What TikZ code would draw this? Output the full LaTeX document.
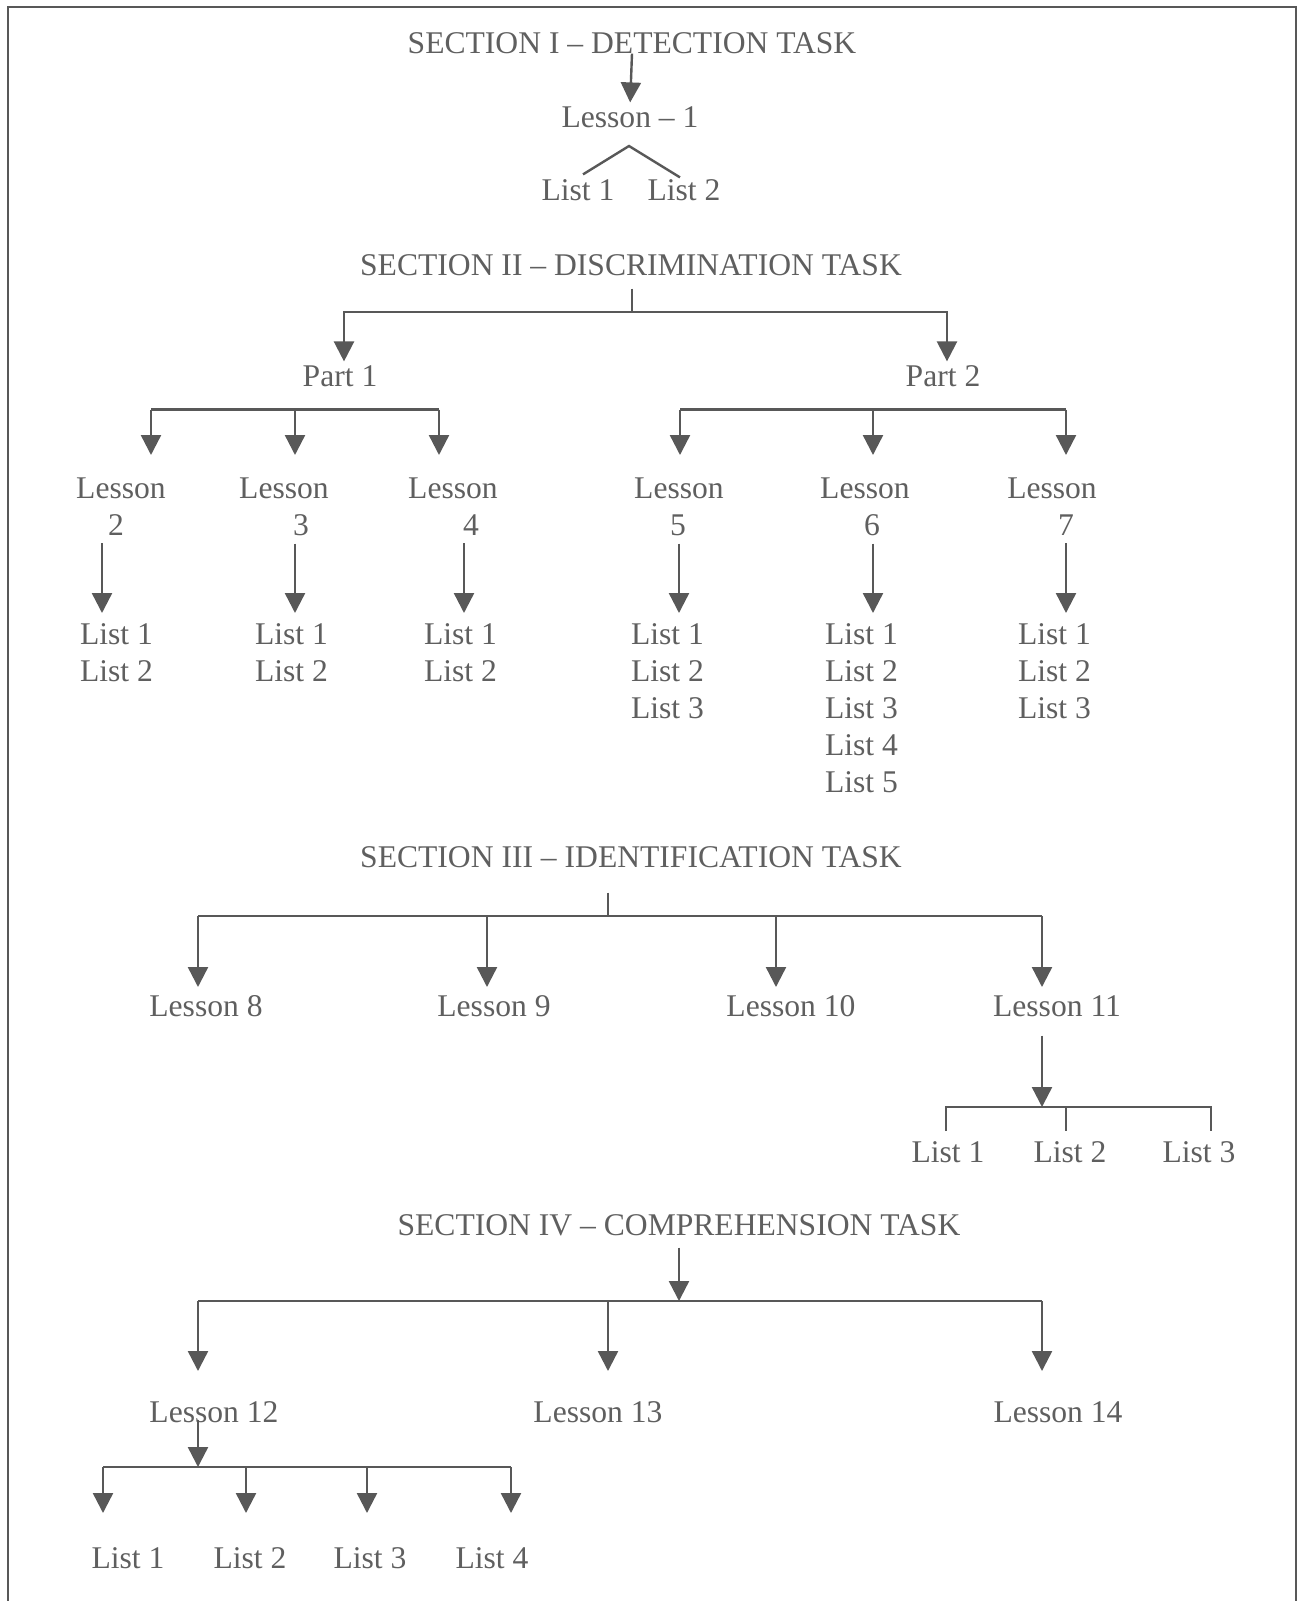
\documentclass[tikz,border=0pt]{standalone}
\usepackage{fontspec}
\setmainfont{Liberation Serif}
\usepackage{tikz}
\usetikzlibrary{arrows.meta,calc}
\definecolor{inkgray}{RGB}{88,88,88}
\definecolor{txtgray}{RGB}{95,95,95}
\tikzset{
  txt/.style={inner sep=0pt, outer sep=0pt, text=txtgray,
    font=\fontsize{15.8}{18.5}\selectfont},
  link/.style={draw=inkgray, line width=1.2pt},
  arr/.style={link, -{Triangle[length=10pt,width=10pt]}},
}
\begin{document}
\begin{tikzpicture}[y=0.5pt, x=0.5pt, yscale=-1]
\useasboundingbox (0,0) rectangle (1299,1601);
\path[draw=inkgray, line width=1pt] (8,1601) -- (8,7) -- (1296,7) -- (1296,1601);

% section I
\path (632,43) node[txt] (sec1) {SECTION I – DETECTION TASK};
\path (630,117) node[txt] (les1) {Lesson – 1};
\path (578,190) node[txt] (lst1a) {List 1};
\path (684,190) node[txt] (lst1b) {List 2};
\draw[arr, shorten >=2pt] (sec1.south) -- (les1.north);
\coordinate (cap1) at (629,146);
\draw[link] ($(lst1a.north)+(5,-5)$) -- (cap1) -- ($(lst1b.north)+(-4,-2)$);

% section II
\path (631,265) node[txt] (sec2) {SECTION II – DISCRIMINATION TASK};
\path (340,376) node[txt] (part1) {Part 1};
\path (943,376) node[txt] (part2) {Part 2};
\coordinate (j2) at (632,312);
\draw[link] ($(j2 |- sec2.south)+(0,13)$) -- (j2);
\draw[arr, shorten >=2pt] (j2) -| ($(part1.north)+(4,0)$);
\draw[arr, shorten >=2pt] (j2) -| ($(part2.north)+(4,0)$);

\foreach \n/\x in {2/151,3/295,4/439,5/680,6/873,7/1066}
  \coordinate (tip\n) at (\x,455);
\coordinate (bus21) at (151,409.5);
\coordinate (bus22) at (680,409.5);
\draw[link] (bus21) -- (tip4 |- bus21);
\draw[link] (bus22) -- (tip7 |- bus22);
\foreach \n in {2,3,4}
  \draw[arr] (tip\n |- bus21) -- (tip\n);
\foreach \n in {5,6,7}
  \draw[arr] (tip\n |- bus22) -- (tip\n);

\foreach \n/\xa/\xb in {2/121/116,3/284/301,4/453/471,5/679/678,6/865/872,7/1052/1066} {
  \path (\xa,488) node[txt] (les\n) {Lesson};
  \path (\xb,525) node[txt] (num\n) {\n};
}
\foreach \n/\x in {2/102,3/295,4/464,5/679,6/873,7/1066} {
  \coordinate (dn\n) at (\x,613);
  \draw[arr, shorten <=4pt] (dn\n |- num\n.south) -- (dn\n);
}

\path (80,624) node[txt, anchor=north west, align=left] (lst2) {List 1\\List 2};
\path (255,624) node[txt, anchor=north west, align=left] (lst3) {List 1\\List 2};
\path (424,624) node[txt, anchor=north west, align=left] (lst4) {List 1\\List 2};
\path (631,624) node[txt, anchor=north west, align=left] (lst5) {List 1\\List 2\\List 3};
\path (825,624) node[txt, anchor=north west, align=left] (lst6) {List 1\\List 2\\List 3\\List 4\\List 5};
\path (1018,624) node[txt, anchor=north west, align=left] (lst7) {List 1\\List 2\\List 3};

% section III
\path (631,857) node[txt] (sec3) {SECTION III – IDENTIFICATION TASK};
\coordinate (j3) at (608,916);
\draw[link] ($(j3 |- sec3.south)+(0,25)$) -- (j3);
\foreach \n/\x in {8/198,9/487,10/776,11/1042}
  \coordinate (tip\n) at (\x,987);
\coordinate (bus3) at (198,916);
\draw[link] (bus3) -- (tip11 |- bus3);
\foreach \n in {8,9,10,11}
  \draw[arr] (tip\n |- bus3) -- (tip\n);
\path (206,1006) node[txt] (les8) {Lesson 8};
\path (494,1006) node[txt] (les9) {Lesson 9};
\path (791,1006) node[txt] (les10) {Lesson 10};
\path (1057,1006) node[txt] (les11) {Lesson 11};

\coordinate (j11) at (1042,1107);
\draw[arr] ($(j11 |- les11.south)+(0,19)$) -- (j11);
\coordinate (k1) at (946,1131);
\coordinate (k2) at (1066,1131);
\coordinate (k3) at (1211,1131);
\draw[link] (k1) |- (k3 |- j11) -- (k3);
\draw[link] (k2 |- j11) -- (k2);
\path (948,1152) node[txt] (lst11a) {List 1};
\path (1070,1152) node[txt] (lst11b) {List 2};
\path (1199,1152) node[txt] (lst11c) {List 3};

% section IV
\path (679,1225) node[txt] (sec4) {SECTION IV – COMPREHENSION TASK};
\coordinate (j4) at (679,1301);
\draw[arr] ($(sec4.south)+(0,12)$) -- (j4);
\foreach \n/\x in {12/198,13/608,14/1042}
  \coordinate (tip\n) at (\x,1371);
\coordinate (bus4) at (198,1301);
\draw[link] (bus4) -- (tip14 |- bus4);
\foreach \n in {12,13,14}
  \draw[arr] (tip\n |- bus4) -- (tip\n);
\path (214,1412) node[txt] (les12) {Lesson 12};
\path (598,1412) node[txt] (les13) {Lesson 13};
\path (1058,1412) node[txt] (les14) {Lesson 14};

\coordinate (j12) at (198,1467);
\draw[arr] ($(j12 |- les12.south)+(0,-3)$) -- (j12);
\foreach \n/\x in {1/103,2/246,3/367,4/511}
  \coordinate (tp\n) at (\x,1513);
\draw[link] (tp1 |- j12) -- (tp4 |- j12);
\foreach \n in {1,2,3,4}
  \draw[arr] (tp\n |- j12) -- (tp\n);
\path (128,1558) node[txt] (lst12a) {List 1};
\path (250,1558) node[txt] (lst12b) {List 2};
\path (370,1558) node[txt] (lst12c) {List 3};
\path (492,1558) node[txt] (lst12d) {List 4};

\end{tikzpicture}
\end{document}
